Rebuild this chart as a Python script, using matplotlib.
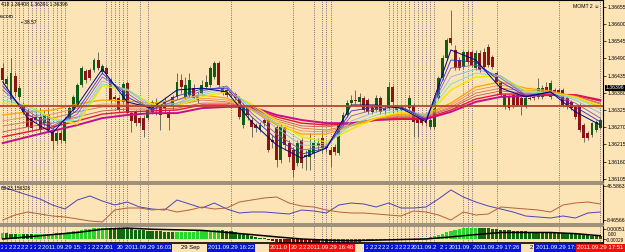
#!/usr/bin/env python3
# -*- coding: utf-8 -*-
"""
MT4 M1 图表重绘: K线 + GMMA 均线带 + 两个副图指标
"""

import numpy as np
import matplotlib
matplotlib.use('Agg')
import matplotlib.pyplot as plt
from matplotlib.transforms import blended_transform_factory

plt.rcParams['font.family'] = ['Liberation Sans', 'DejaVu Sans']

# ---- K线 (报价点, 1e-5) ----
opens = [136459, 136408, 136357, 136434, 136367, 136338, 136319, 136299, 136293, 136303,
         136283, 136309, 136261, 136226, 136251, 136226, 136299, 136325, 136341, 136405,
         136450, 136453, 136453, 136485, 136447, 136459, 136421, 136367, 136363, 136351,
         136411, 136315, 136319, 136299, 136299, 136299, 136319, 136347, 136335, 136351,
         136319, 136335, 136367, 136421, 136367, 136373, 136395, 136373, 136379, 136399,
         136405, 136431, 136475, 136395, 136389, 136383, 136376, 136363, 136277, 136331,
         136293, 136277, 136261, 136293, 136293, 136229, 136271, 136165, 136271, 136219,
         136197, 136155, 136229, 136175, 136175, 136187, 136210, 136235, 136210, 136197,
         136207, 136187, 136277, 136309, 136347, 136357, 136351, 136363, 136357, 136331,
         136325, 136363, 136331, 136331, 136399, 136331, 136331, 136328, 136331, 136341,
         136299, 136296, 136293, 136271, 136271, 136363, 136427, 136491, 136555, 136517,
         136485, 136463, 136511, 136511, 136459, 136507, 136511, 136527, 136495, 136443,
         136411, 136335, 136367, 136373, 136373, 136363, 136335, 136363, 136367, 136367,
         136367, 136399, 136367, 136389, 136389, 136389, 136363, 136351, 136335, 136341,
         136277, 136251, 136245, 136261, 136267]
highs = [136475, 136434, 136491, 136447, 136405, 136351, 136331, 136312, 136319, 136331,
         136325, 136335, 136271, 136261, 136261, 136303, 136341, 136373, 136411, 136466,
         136456, 136459, 136491, 136511, 136472, 136466, 136427, 136373, 136370, 136415,
         136418, 136322, 136325, 136306, 136309, 136331, 136357, 136363, 136344, 136367,
         136325, 136373, 136443, 136440, 136431, 136443, 136408, 136383, 136421, 136437,
         136466, 136482, 136482, 136402, 136395, 136389, 136383, 136370, 136347, 136338,
         136303, 136283, 136287, 136299, 136299, 136245, 136277, 136280, 136277, 136229,
         136207, 136229, 136235, 136197, 136251, 136235, 136235, 136261, 136219, 136207,
         136216, 136283, 136319, 136357, 136373, 136389, 136379, 136370, 136363, 136341,
         136373, 136370, 136338, 136415, 136405, 136341, 136338, 136338, 136373, 136347,
         136312, 136303, 136299, 136299, 136363, 136434, 136501, 136555, 136645, 136533,
         136495, 136517, 136517, 136517, 136517, 136517, 136523, 136536, 136501, 136450,
         136418, 136379, 136373, 136379, 136379, 136370, 136370, 136370, 136373, 136427,
         136405, 136415, 136421, 136395, 136395, 136395, 136370, 136357, 136341, 136347,
         136283, 136258, 136287, 136293, 136299]
lows = [136411, 136395, 136341, 136370, 136357, 136312, 136261, 136258, 136283, 136251,
        136274, 136251, 136197, 136216, 136219, 136219, 136293, 136319, 136335, 136399,
        136411, 136421, 136447, 136453, 136440, 136427, 136347, 136354, 136319, 136344,
        136309, 136255, 136274, 136274, 136239, 136293, 136312, 136309, 136261, 136319,
        136261, 136325, 136360, 136379, 136360, 136367, 136357, 136347, 136373, 136392,
        136399, 136424, 136399, 136373, 136367, 136367, 136357, 136296, 136267, 136293,
        136239, 136255, 136255, 136274, 136191, 136203, 136143, 136155, 136197, 136159,
        136111, 136146, 136139, 136133, 136133, 136171, 136197, 136187, 136191, 136143,
        136181, 136181, 136271, 136303, 136338, 136344, 136341, 136319, 136312, 136312,
        136319, 136312, 136312, 136325, 136309, 136315, 136319, 136319, 136325, 136239,
        136239, 136277, 136274, 136264, 136264, 136357, 136421, 136485, 136533, 136453,
        136453, 136456, 136472, 136463, 136453, 136447, 136456, 136463, 136456, 136408,
        136367, 136328, 136325, 136331, 136338, 136309, 136331, 136357, 136357, 136360,
        136360, 136379, 136360, 136376, 136376, 136335, 136328, 136325, 136296, 136255,
        136223, 136229, 136239, 136255, 136264]
closes = [136421, 136424, 136443, 136383, 136395, 136319, 136271, 136267, 136303, 136261,
          136309, 136261, 136226, 136251, 136229, 136293, 136331, 136367, 136405, 136459,
          136421, 136427, 136485, 136459, 136466, 136440, 136354, 136360, 136325, 136408,
          136315, 136290, 136283, 136283, 136261, 136325, 136351, 136341, 136309, 136331,
          136299, 136367, 136415, 136399, 136405, 136421, 136363, 136357, 136405, 136415,
          136459, 136475, 136405, 136379, 136373, 136373, 136363, 136303, 136341, 136309,
          136271, 136267, 136277, 136283, 136197, 136223, 136165, 136271, 136213, 136175,
          136133, 136219, 136155, 136181, 136197, 136219, 136219, 136203, 136203, 136181,
          136191, 136277, 136309, 136347, 136357, 136354, 136367, 136325, 136319, 136319,
          136363, 136319, 136322, 136399, 136351, 136325, 136325, 136325, 136363, 136287,
          136283, 136283, 136283, 136293, 136357, 136427, 136491, 136549, 136539, 136459,
          136459, 136511, 136479, 136469, 136507, 136453, 136463, 136469, 136463, 136415,
          136373, 136373, 136331, 136341, 136341, 136341, 136363, 136360, 136363, 136395,
          136395, 136383, 136411, 136379, 136379, 136341, 136335, 136331, 136303, 136261,
          136235, 136235, 136283, 136287, 136293]

# ---- 均线带 (每 6 根 K 线读一次) ----
ma_idx = list(range(0, 145, 6))
fast_1 = [136415, 136299, 136251, 136341, 136456, 136351, 136331, 136389, 136395, 136383, 136287, 136213, 136171,
          136203, 136341, 136341, 136331, 136287, 136517, 136485, 136395, 136367, 136383, 136319, 136277]
fast_2 = [136402, 136312, 136264, 136325, 136443, 136367, 136325, 136370, 136392, 136395, 136303, 136232, 136184,
          136203, 136322, 136335, 136335, 136293, 136485, 136479, 136415, 136370, 136383, 136335, 136287]
fast_3 = [136389, 136322, 136274, 136312, 136431, 136379, 136325, 136357, 136386, 136402, 136315, 136248, 136197,
          136207, 136306, 136328, 136335, 136299, 136459, 136469, 136427, 136373, 136379, 136347, 136299]
fast_4 = [136373, 136331, 136283, 136299, 136418, 136389, 136331, 136347, 136379, 136399, 136328, 136267, 136213,
          136210, 136290, 136319, 136331, 136306, 136431, 136456, 136434, 136376, 136379, 136357, 136315]
fast_5 = [136357, 136338, 136293, 136290, 136408, 136392, 136338, 136341, 136373, 136392, 136338, 136280, 136226,
          136216, 136277, 136309, 136325, 136306, 136408, 136443, 136434, 136383, 136379, 136363, 136328]
fast_6 = [136347, 136341, 136299, 136280, 136402, 136389, 136344, 136338, 136367, 136383, 136344, 136290, 136239,
          136223, 136264, 136299, 136319, 136306, 136389, 136431, 136434, 136386, 136379, 136367, 136338]
slow_1 = [136309, 136319, 136325, 136344, 136357, 136354, 136347, 136357, 136373, 136363, 136325, 136277, 136248,
          136248, 136274, 136299, 136312, 136312, 136347, 136399, 136415, 136395, 136386, 136367, 136335]
slow_2 = [136290, 136303, 136312, 136331, 136344, 136344, 136341, 136347, 136363, 136357, 136328, 136283, 136258,
          136255, 136277, 136299, 136309, 136309, 136341, 136389, 136405, 136389, 136383, 136367, 136338]
slow_3 = [136274, 136287, 136299, 136319, 136335, 136335, 136335, 136341, 136357, 136351, 136328, 136290, 136267,
          136261, 136277, 136296, 136306, 136306, 136335, 136379, 136395, 136386, 136379, 136370, 136344]
slow_4 = [136255, 136271, 136283, 136303, 136322, 136328, 136328, 136331, 136347, 136347, 136331, 136296, 136274,
          136271, 136280, 136296, 136303, 136303, 136331, 136370, 136386, 136379, 136379, 136370, 136347]
slow_5 = [136239, 136255, 136271, 136290, 136312, 136319, 136322, 136325, 136341, 136341, 136331, 136303, 136283,
          136277, 136280, 136293, 136299, 136299, 136325, 136360, 136376, 136376, 136376, 136373, 136354]
slow_6 = [136219, 136239, 136258, 136277, 136299, 136309, 136315, 136315, 136331, 136335, 136335, 136309, 136293,
          136283, 136283, 136293, 136296, 136296, 136319, 136351, 136367, 136370, 136373, 136373, 136357]

level_line = 136338      # 水平线
bid_price = 136396       # 当前报价
price_ticks = [136655, 136600, 136545, 136490, 136435, 136380, 136325, 136270, 136215, 136160, 136105]

# ---- 副图1 (每 3 根 K 线读一次) ----
ind_idx = list(range(0, 145, 3))
ind_blue = [45.47, 40.98, 36.5, 32.02, 25.29, 20.81, 30.9, 35.38, 29.77, 25.29, 28.65, 23.05, 20.81,
            19.69, 30.9, 26.41, 21.93, 27.53, 20.81, 16.32, 17.45, 17.45, 16.32, 15.2, 19.69, 18.57,
            16.32, 25.29, 27.53, 26.41, 23.05, 27.53, 21.93, 21.93, 23.05, 32.02, 42.1, 34.26, 28.65,
            24.17, 20.81, 17.45, 12.96, 11.84, 10.72, 12.96, 10.72, 16.32, 17.45]
ind_brown = [8.47, 14.08, 17.45, 15.2, 12.96, 11.84, 9.6, 7.35, 6.23, 19.69, 21.93, 21.93, 19.69,
             20.81, 17.45, 19.69, 23.05, 20.81, 21.93, 28.65, 30.9, 33.14, 34.26, 27.53, 24.17, 23.05,
             19.69, 17.45, 16.32, 16.32, 15.2, 14.08, 12.96, 18.57, 17.45, 14.08, 8.47, 17.45, 14.08,
             15.2, 23.05, 21.93, 20.81, 19.69, 17.45, 25.29, 27.53, 28.65, 26.41]

# ---- 副图2 柱状 (1e-5) 与信号线 ----
hist = [30, 29, 28, 27, 27, 26, 25, 24, 24, 25, 26, 27, 28, 29, 30,
        33, 36, 40, 44, 48, 51, 54, 56, 58, 60, 60, 59,
        57, 55, 53, 52, 50, 48, 47, 46, 44, 43, 41, 40, 38, 37,
        36, 36, 37, 38, 38, 39, 40, 41, 42, 43,
        45, 46, 45, 43, 40,
        36, 32, 27, 22, 17, 12, 7, 3,
        -5, -10, -15, -19, -22, -24, -25, -25, -26,
        -27, -28, -28, -28, -27, -27, -26, -25, -24, -22, -20,
        -18, -16, -14, -12, -10, -8, -6, -4,
        -3, -2, -2, -1, -1, 0, 1, 1, 2, 3, 5, 8,
        14, 20, 27, 34, 41, 47, 52,
        55, 57, 58, 58, 57, 56, 55, 53, 51, 49,
        47, 45, 43, 42, 41, 40, 39, 38, 37, 36,
        35, 34, 33, 32, 31, 30, 28, 26, 24, 22, 20, 18, 16, 14]
signal = [0, 11, 23, 34, 51, 57, 51, 48, 45, 34, 23, 11, 0, -6, -9, -6, -3, 0, 11, 23, 34, 34, 34, 28, 17]

# ---- 竖直虚线事件与底部时间标签 ----
event_idx = list(range(0, 16)) + list(range(25, 31)) + [33, 35, 55, 70, 75, 77, 78, 79] + \
    list(range(93, 105)) + [111, 112, 113, 119, 134, 144]
event_time = ['15:27', '15:28', '15:29', '15:30', '15:31', '15:32', '15:33', '15:34', '15:35', '15:36',
              '15:37', '15:38', '15:39', '15:40', '15:41', '15:42',
              '15:52', '15:53', '15:54', '15:55', '15:56', '15:57', '16:00', '16:03', '16:22',
              '16:37', '16:42', '16:44', '16:45', '16:46',
              '17:00', '17:01', '17:02', '17:03', '17:04', '17:05', '17:06', '17:07', '17:08', '17:09',
              '17:10', '17:11', '17:18', '17:19', '17:20', '17:26', '17:41', '17:51']
event_kind = ['B'] * 25 + ['R'] * 5 + ['B'] * 17 + ['R']
axis_idx = [43, 127]
axis_text = ['29 Sep 16:10', '29 Sep 17:34']

BAR_PX = 4.15     # 每根K线的像素宽
FIRST_PX = 2.7    # 第一根K线中心


def char_px(ch):
    """近似字符宽度 (Liberation Sans 4.3pt)"""
    if ch.isdigit():
        return 3.32
    if ch.isalpha():
        return 3.5
    return 1.66


def text_px(s):
    return sum(char_px(ch) for ch in s)


def fit_text(s, budget):
    """截断文字, 只保留未被后一个标签遮住的部分 (至少一个字符)"""
    out, w = s[0], char_px(s[0])
    for ch in s[1:]:
        if w + char_px(ch) > budget:
            break
        out += ch
        w += char_px(ch)
    return out.rstrip()


def main():
    BG = '#fde4b6'
    W, H = 625, 252
    fig = plt.figure(figsize=(W / 100, H / 100), dpi=100, facecolor=BG)

    def px_axes(x0, y0, x1, y1):
        a = fig.add_axes([x0 / W, 1 - y1 / H, (x1 - x0) / W, (y1 - y0) / H])
        a.set_facecolor(BG)
        return a

    ax = px_axes(0, 0, 603, 182)
    ax1 = px_axes(0, 184, 603, 224)
    ax2 = px_axes(0, 226, 603, 243)
    axt = px_axes(0, 243, 625, 252)

    o = np.array(opens) / 1e5
    h = np.array(highs) / 1e5
    l = np.array(lows) / 1e5
    c = np.array(closes) / 1e5
    x = np.arange(len(c))
    xlim = (-FIRST_PX / BAR_PX, (603 - FIRST_PX) / BAR_PX)

    # 事件虚线
    for a in (ax, ax1, ax2):
        for i in event_idx:
            a.axvline(i, color='#55486a', lw=0.6, ls=(0, (1, 1.6)), zorder=1)

    # K线
    up = c >= o
    ax.vlines(x, l, h, color='#5a5a50', lw=0.6, zorder=3)
    ax.bar(x, np.maximum(np.abs(c - o), 0.000012), bottom=np.minimum(o, c), width=0.72,
           color=np.where(up, '#0d5e18', '#8c1414'), zorder=4)

    # GMMA 均线带
    slow = [(slow_6, '#c2108c', 1.4), (slow_5, '#e8183c', 1.0), (slow_4, '#c85050', 0.6),
            (slow_3, '#d8704e', 0.6), (slow_2, '#f08a5a', 0.6), (slow_1, '#ffa200', 0.9)]
    fast = [(fast_6, '#f4e400', 1.0), (fast_5, '#70e0c0', 0.6), (fast_4, '#8cb2ea', 0.6),
            (fast_3, '#7a5cb8', 0.6), (fast_2, '#2c2cd0', 0.6), (fast_1, '#000080', 0.7)]
    for vals, col, lw in slow + fast:
        ax.plot(ma_idx, np.array(vals) / 1e5, color=col, lw=lw, zorder=5)

    ax.axhline(level_line / 1e5, color='#b8442c', lw=1.3, zorder=6)

    ax.set_xlim(*xlim)
    ax.set_ylim(1.360946, 1.36677)
    ax.set_xticks([])
    ax.yaxis.tick_right()
    ax.set_yticks(np.array(price_ticks) / 1e5)
    ax.set_yticklabels([f'{p / 1e5:.5f}' for p in price_ticks])
    bt = blended_transform_factory(ax.transAxes, ax.transData)
    ax.text(1.004, bid_price / 1e5, f'{bid_price / 1e5:.5f}', transform=bt, fontsize=3.7, color='white',
            va='center', ha='left', zorder=10, clip_on=False,
            bbox=dict(boxstyle='square,pad=0.15', fc='black', ec='none'))

    # 副图1
    ax1.plot(ind_idx, ind_blue, color='#4a44b8', lw=0.7, zorder=3)
    ax1.plot(ind_idx, ind_brown, color='#b4603c', lw=0.7, zorder=3)
    ax1.set_xlim(*xlim)
    ax1.set_ylim(3.99, 48.83)
    ax1.set_xticks([])
    ax1.yaxis.tick_right()
    ax1.set_yticks([46.5863, 8.46566])
    ax1.set_yticklabels(['46.5863', '8.46566'])
    ax1.text(0.002, 0.9, '60 23.156326', transform=ax1.transAxes, fontsize=3.4, va='center')

    # 副图2
    hv = np.array(hist) * 1e-5
    prev = np.r_[hv[0], hv[:-1]]
    cols = np.where(hv >= 0, np.where(hv >= prev, '#2ad42a', '#0c6a10'),
                    np.where(hv <= prev, '#8a0a0a', '#e02424'))
    ax2.bar(x, hv, width=0.78, color=cols, zorder=2)
    ax2.plot(ma_idx, np.array(signal) * 1e-5, color='black', lw=1.1, zorder=3)
    ax2.set_xlim(*xlim)
    ax2.set_ylim(-0.00021, 0.00068)
    ax2.set_xticks([])
    ax2.yaxis.tick_right()
    ax2.set_yticks([0.00051, 0.0])
    ax2.set_yticklabels(['0.00051', ''])
    bt2 = blended_transform_factory(ax2.transAxes, ax2.transData)
    ax2.text(1.008, 0.00021, '0.00', transform=bt2, fontsize=3.4, va='center', ha='left', clip_on=False)
    ax2.text(1.004, -0.00008, '-0.00029', transform=bt2, fontsize=3.4, va='center', ha='left', clip_on=False)

    for a in (ax, ax1, ax2):
        a.tick_params(axis='y', labelsize=3.7, length=2, width=0.5, pad=1, colors='black')
        a.spines['left'].set_visible(False)
        a.spines['right'].set_color('black')
        a.spines['right'].set_linewidth(0.8)
        a.spines['top'].set_color('#8c8272')
        a.spines['bottom'].set_color('#8c8272')
        a.spines['top'].set_linewidth(1.2)
        a.spines['bottom'].set_linewidth(1.2)
    ax.spines['top'].set_color('black')
    ax.spines['top'].set_linewidth(0.8)
    ax2.spines['bottom'].set_color('black')

    # 底部时间轴: 标签以事件K线为中心, 后画的盖住前面的, 只写出露在外面的部分
    axt.set_xlim(xlim[0], (W - FIRST_PX) / BAR_PX)
    axt.set_ylim(0, 1)
    axt.axis('off')
    full = ['2011.09.29 ' + t for t in event_time]
    lefts = [FIRST_PX + BAR_PX * i - text_px(s) / 2 for i, s in zip(event_idx, full)]
    for k, (s, left, kind) in enumerate(zip(full, lefts, event_kind)):
        budget = (lefts[k + 1] - left - 0.5) if k + 1 < len(full) else W - left
        if left < -1.5:
            continue
        shown = fit_text(s, budget)
        fc = '#0a14d2' if kind == 'B' else '#f01010'
        axt.text((max(left, 0.8) - FIRST_PX) / BAR_PX, 0.45, shown, fontsize=4.3, ha='left', va='center',
                 color='white', zorder=3 + k, clip_on=False,
                 bbox=dict(boxstyle='square,pad=0.18', fc=fc, ec='none'))
    for i, t in zip(axis_idx, axis_text):
        left = FIRST_PX + BAR_PX * i
        nxt = min(lf for lf in lefts if lf > left)
        axt.text(i, 0.45, fit_text(t, nxt - left - 6), fontsize=4.2, ha='left', va='center',
                 color='black', zorder=2)

    # 左上角标题文字
    fig.text(1 / W, 1 - 5 / H, '418 1.36408 1.36391 1.36396', fontsize=3.6, va='center')
    fig.text(0 / W, 1 - 17 / H, 'e.com', fontsize=3.6, va='center')
    fig.text(21 / W, 1 - 23 / H, '\u25aa 38.57', fontsize=3.6, va='center')
    fig.text(573 / W, 1 - 7 / H, 'MOMT 2 \u263a', fontsize=3.7, va='center')

    plt.savefig('out.png', dpi=100, facecolor=BG)
    plt.close()


if __name__ == '__main__':
    main()
